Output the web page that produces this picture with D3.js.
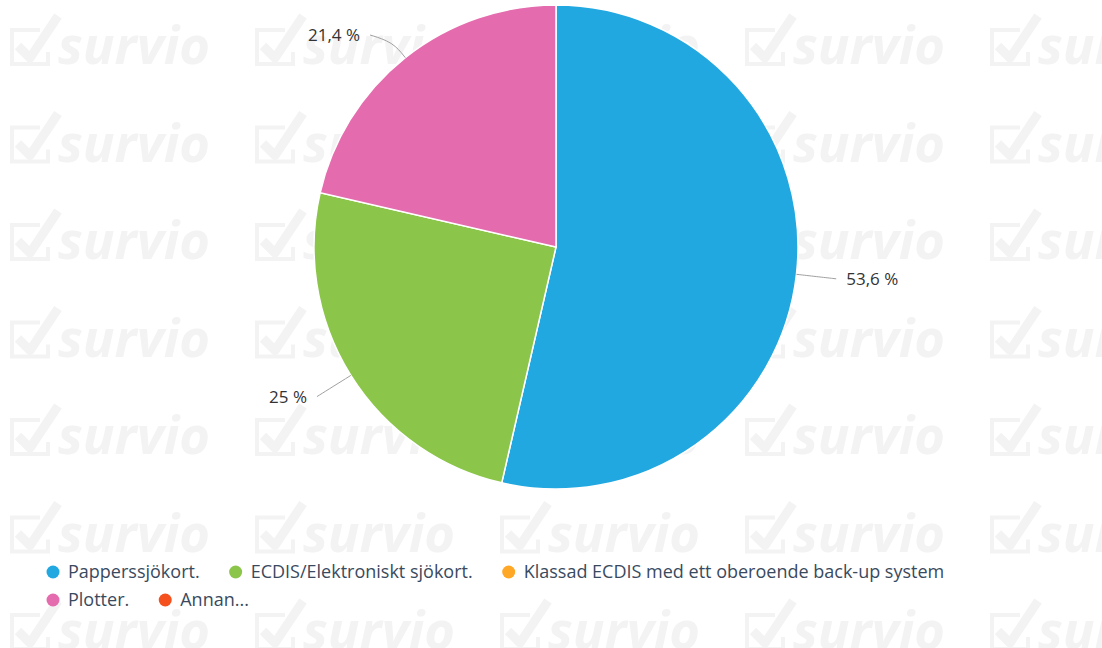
<!DOCTYPE html>
<html>
<head>
<meta charset="utf-8">
<script src="https://cdn.jsdelivr.net/npm/d3@7"></script>
<style>
  body { margin: 0; background: #fff; }
  #chart { width: 1102px; height: 648px; }
  text { font-family: "Open Sans", "Noto Sans", sans-serif; }
</style>
</head>
<body>
<div id="chart"></div>
<script>
// survey answers
const categories = ["Papperssjökort.", "ECDIS/Elektroniskt sjökort.", "Klassad ECDIS med ett oberoende back-up system", "Plotter.", "Annan..."];
const values = [53.6, 25, 0, 21.4, 0];
const colors = ["#21a8e0", "#8bc54a", "#ffa726", "#e46cae", "#f4511e"];
const labels = ["53,6 %", "25 %", "", "21,4 %", ""];

const width = 1102, height = 648;

const svg = d3.select("#chart")
    .append("svg")
    .attr("width", width)
    .attr("height", height);

// watermark tiles
const wm = svg.append("g").attr("fill", "none");
const cols = d3.range(5), rows = d3.range(7);
rows.forEach(function(r) {
    cols.forEach(function(c) {
        const g = wm.append("g")
            .attr("transform", `translate(${10 + c * 245},${28 + r * 97.5})`);
        g.append("path")
            .attr("d", "M30,2 H2 V36 H38 V24")
            .attr("stroke", "#f3f3f3")
            .attr("stroke-width", 4);
        g.append("path")
            .attr("d", "M8,18 L20,30 L48,-12")
            .attr("stroke", "#f3f3f3")
            .attr("stroke-width", 9)
            .attr("stroke-linejoin", "round");
        g.append("text")
            .attr("x", 48)
            .attr("y", 36)
            .attr("fill", "#f3f3f3")
            .style("font-size", "52px")
            .style("font-weight", "bold")
            .style("font-style", "italic")
            .attr("textLength", 152)
            .attr("lengthAdjust", "spacingAndGlyphs")
            .text("survio");
    });
});

// pie
const cx = 556, cy = 247, radius = 242;
const pie = d3.pie().sort(null).value(d => d);
const arcs = pie(values);
const arc = d3.arc().innerRadius(0).outerRadius(radius);

const pieG = svg.append("g").attr("transform", `translate(${cx},${cy})`);

pieG.selectAll("path.slice")
    .data(arcs.filter(d => d.value > 0))
    .enter()
    .append("path")
    .attr("class", "slice")
    .attr("d", arc)
    .attr("fill", d => colors[d.index])
    .attr("stroke", "#fff")
    .attr("stroke-width", 1.5);

// data labels with connectors
const dist = 40;
const line = d3.line().curve(d3.curveBasis);
arcs.filter(d => d.value > 0).forEach(function(d) {
    const a = (d.startAngle + d.endAngle) / 2;
    const side = Math.sin(a) >= 0 ? 1 : -1;
    let ly = -(radius + dist) * Math.cos(a);
    ly = Math.max(ly, -cy + 35);
    const lx = side * Math.sqrt(Math.max(0, (radius + dist) ** 2 - ly * ly));
    const edge = [radius * Math.sin(a), -radius * Math.cos(a)];
    const mid = [(radius + 20) * Math.sin(a), -(radius + 20) * Math.cos(a)];
    pieG.append("path")
        .attr("d", line([edge, mid, [lx, ly]]))
        .attr("fill", "none")
        .attr("stroke", "#a0a0a0")
        .attr("stroke-width", 1);
    pieG.append("text")
        .attr("x", lx + side * 10)
        .attr("y", ly)
        .attr("dy", "0.35em")
        .attr("text-anchor", side > 0 ? "start" : "end")
        .attr("fill", "#333")
        .style("font-size", "17px")
        .style("font-weight", "500")
        .text(labels[d.index]);
});

// legend
const legendRows = [[0, 1, 2], [3, 4]];
const legend = svg.append("g");
legendRows.forEach(function(row, ri) {
    let x = 53;
    row.forEach(function(i) {
        const item = legend.append("g")
            .attr("transform", `translate(${x},${572 + ri * 28})`);
        item.append("circle")
            .attr("r", 6.5)
            .attr("fill", colors[i]);
        const t = item.append("text")
            .attr("x", 15)
            .attr("dy", "0.35em")
            .attr("fill", "#3a4a5e")
            .style("font-size", "18px")
            .text(categories[i]);
        x += 15 + t.node().getComputedTextLength() + 36;
    });
});
</script>
</body>
</html>
